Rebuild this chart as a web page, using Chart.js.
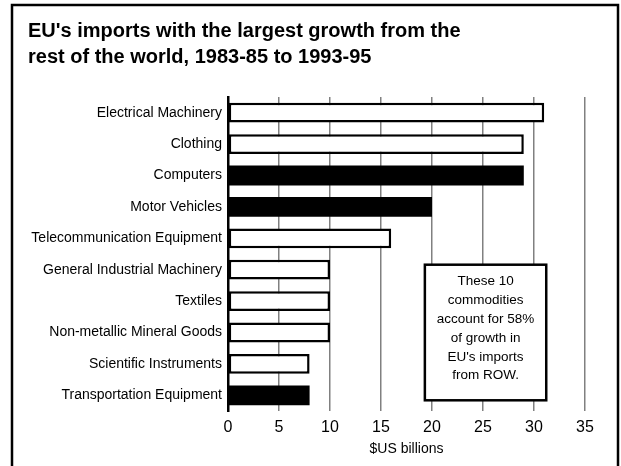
<!DOCTYPE html>
<html>
<head>
<meta charset="utf-8">
<script src="https://cdn.jsdelivr.net/npm/chart.js@4"></script>
<style>
  html, body { margin: 0; padding: 0; background: #fff; }
  #wrap { width: 621px; height: 466px; }
</style>
</head>
<body>
<div id="wrap"><canvas id="growthChart" width="621" height="466"></canvas></div>
<script>
(function() {
    'use strict';

    const titleLines = [
        "EU's imports with the largest growth from the",
        'rest of the world, 1983-85 to 1993-95'
    ];
    const commodities = [
        'Electrical Machinery',
        'Clothing',
        'Computers',
        'Motor Vehicles',
        'Telecommunication Equipment',
        'General Industrial Machinery',
        'Textiles',
        'Non-metallic Mineral Goods',
        'Scientific Instruments',
        'Transportation Equipment'
    ];
    const growth = [31, 29, 29, 20, 16, 10, 10, 10, 8, 8];
    const highlighted = ['Computers', 'Motor Vehicles', 'Transportation Equipment'];
    const xTicks = [0, 5, 10, 15, 20, 25, 30, 35];
    const axisTitle = '$US billions';
    const noteLines = [
        'These 10',
        'commodities',
        'account for 58%',
        'of growth in',
        "EU's imports",
        'from ROW.'
    ];

    const FONT = "'Liberation Sans', Arial, sans-serif";
    const isDark = c => highlighted.includes(c);

    // boxed note inside the plot
    const notePlugin = {
        id: 'note',
        afterDatasetsDraw(chart) {
            const ctx = chart.ctx;
            const x = chart.scales.x;
            const y = chart.scales.y;
            const left = x.getPixelForValue(19.3);
            const right = x.getPixelForValue(31.2);
            const top = y.getPixelForValue(5) - 5;
            const bottom = y.getPixelForValue(9) + 5;
            ctx.save();
            ctx.fillStyle = '#fff';
            ctx.fillRect(left, top, right - left, bottom - top);
            ctx.lineWidth = 2.5;
            ctx.strokeStyle = '#000';
            ctx.strokeRect(left, top, right - left, bottom - top);
            ctx.fillStyle = '#000';
            ctx.font = '13.5px ' + FONT;
            ctx.textAlign = 'center';
            ctx.textBaseline = 'middle';
            const cx = (left + right) / 2;
            noteLines.forEach(function(line, i) {
                ctx.fillText(line, cx, top + 17 + i * 18.8);
            });
            ctx.restore();
        }
    };

    // outer frame
    const framePlugin = {
        id: 'frame',
        afterDraw(chart) {
            const ctx = chart.ctx;
            ctx.save();
            ctx.lineWidth = 2.5;
            ctx.strokeStyle = '#000';
            ctx.strokeRect(12, 5, 606, 500);
            ctx.restore();
        }
    };

    const ctx = document.getElementById('growthChart').getContext('2d');
    new Chart(ctx, {
        type: 'bar',
        data: {
            labels: commodities,
            datasets: [{
                data: growth,
                backgroundColor: commodities.map(c => isDark(c) ? '#000' : '#fff'),
                borderColor: '#000',
                borderWidth: commodities.map(c => isDark(c) ? 0 : 2.5),
                borderSkipped: false,
                barPercentage: 0.63,
                categoryPercentage: 1
            }]
        },
        options: {
            indexAxis: 'y',
            responsive: false,
            animation: false,
            layout: {
                padding: { top: 12, left: 28, right: 36, bottom: 0 }
            },
            plugins: {
                legend: { display: false },
                tooltip: { enabled: false },
                title: {
                    display: true,
                    text: titleLines,
                    align: 'start',
                    color: '#000',
                    font: { family: FONT, size: 20, weight: 'bold', lineHeight: 1.3 },
                    padding: { top: 6, bottom: 27 }
                }
            },
            scales: {
                x: {
                    type: 'linear',
                    min: 0,
                    max: 35,
                    afterBuildTicks(scale) {
                        scale.ticks = xTicks.map(v => ({ value: v }));
                    },
                    afterFit(scale) { scale.height = 55; },
                    grid: {
                        color: c => c.tick && c.tick.value === 0 ? 'rgba(0,0,0,0)' : '#808080',
                        lineWidth: 1.5,
                        drawTicks: false
                    },
                    border: { display: false },
                    ticks: {
                        color: '#000',
                        padding: 7,
                        font: { family: FONT, size: 16 }
                    },
                    title: {
                        display: true,
                        text: axisTitle,
                        color: '#000',
                        font: { family: FONT, size: 14 },
                        padding: { top: 0, bottom: 8 }
                    }
                },
                y: {
                    afterFit(scale) { scale.width = 200; },
                    grid: { display: false, drawTicks: false },
                    border: { display: true, color: '#000', width: 2.5 },
                    ticks: {
                        color: '#000',
                        padding: 6,
                        font: { family: FONT, size: 14 }
                    }
                }
            }
        },
        plugins: [notePlugin, framePlugin]
    });
})();
</script>
</body>
</html>
